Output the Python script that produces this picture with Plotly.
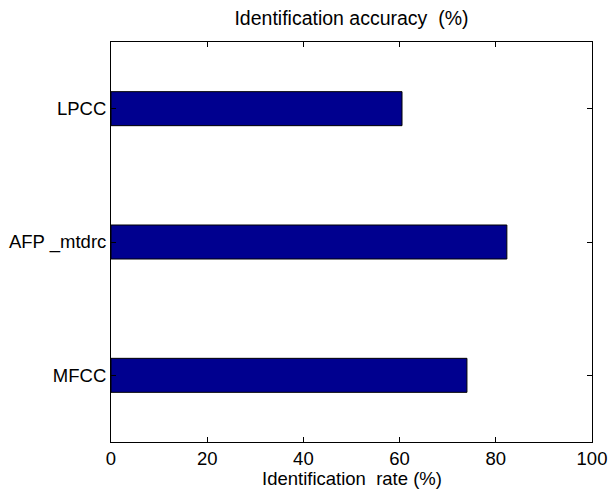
import plotly.graph_objects as go

categories = ["MFCC", "AFP _mtdrc", "LPCC"]
values = [74.0, 82.3, 60.5]
x_ticks = [0, 20, 40, 60, 80, 100]

fig = go.Figure()
fig.add_trace(go.Bar(
    y=[1, 2, 3], x=values, orientation="h", width=0.255,
    marker=dict(color="rgb(0,0,143)", line=dict(color="black", width=1)),
    showlegend=False,
))
fig.update_layout(
    width=608, height=491,
    margin=dict(l=111, r=16, t=42, b=49),
    paper_bgcolor="white", plot_bgcolor="white",
    font=dict(family="Liberation Sans, Arial, sans-serif", size=18.5, color="black"),
    title=dict(text="Identification accuracy  (%)", xref="paper", x=0.5,
               xanchor="center", y=1 - 18 / 491, yanchor="middle", font=dict(size=19.5)),
    xaxis=dict(range=[0, 100], tickvals=x_ticks, ticktext=[str(v) for v in x_ticks],
               ticks="inside", ticklen=5, tickcolor="black", showline=True,
               linecolor="black", linewidth=1, mirror="ticks", showgrid=False,
               zeroline=False, automargin=False),
    yaxis=dict(range=[0.5, 3.5], tickvals=[1, 2, 3], ticktext=categories,
               ticks="inside", ticklen=5, tickcolor="black", showline=True,
               linecolor="black", linewidth=1, mirror="ticks", showgrid=False,
               zeroline=False, automargin=False),
    annotations=[dict(text="Identification  rate (%)", xref="paper", yref="paper",
                      x=0.5, y=-(478 - 442) / 400, xanchor="center", yanchor="middle",
                      showarrow=False, font=dict(size=18.5))],
)
fig.write_html(
    "out.html",
    config={"displayModeBar": False},
    post_script="document.body.style.margin='0';document.body.style.overflow='hidden';",
)
